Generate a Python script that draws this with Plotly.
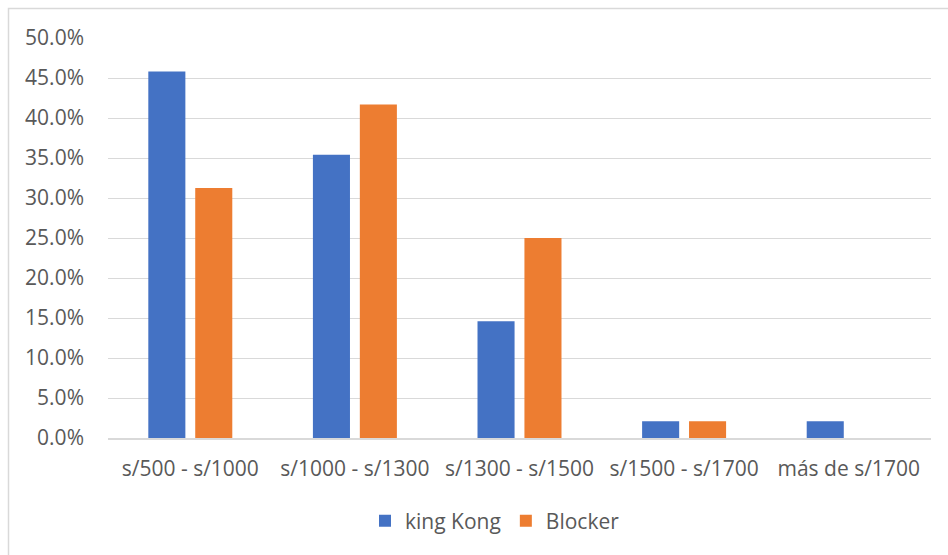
import plotly.graph_objects as go

categories = ["s/500 - s/1000", "s/1000 - s/1300", "s/1300 - s/1500", "s/1500 - s/1700", "más de s/1700"]
king_kong = [0.458, 0.354, 0.146, 0.021, 0.021]
blocker = [0.3125, 0.417, 0.25, 0.021, 0.0]
y_ticks = [0, 0.05, 0.10, 0.15, 0.20, 0.25, 0.30, 0.35, 0.40, 0.45, 0.50]

W, H = 948, 555
L, R, T, B = 108, 17, 38, 117
pw, ph = W - L - R, H - T - B

def px(x):
    return (x - L) / pw

def py(y):
    return (H - B - y) / ph

fig = go.Figure()
fig.add_trace(go.Bar(name="king Kong", x=categories, y=king_kong, marker_color="#4472C4",
                     marker_line_width=0))
fig.add_trace(go.Bar(name="Blocker", x=categories, y=blocker, marker_color="#ED7D31",
                     marker_line_width=0))

font = dict(family="Open Sans, sans-serif", size=21, color="#595959")

fig.update_layout(
    width=W, height=H,
    margin=dict(l=L, r=R, t=T, b=B),
    paper_bgcolor="white", plot_bgcolor="white",
    barmode="group", bargap=0.43, bargroupgap=0.21,
    font=font,
    legend=dict(orientation="h", x=px(495), xanchor="center", y=py(521), yanchor="middle",
                font=dict(family=font["family"], size=21, color="#595959"),
                itemwidth=30),
    shapes=[dict(type="rect", xref="paper", yref="paper",
                 x0=px(8.5), x1=px(1000), y0=py(8.5), y1=py(600),
                 line=dict(color="#D9D9D9", width=1.5), fillcolor="rgba(0,0,0,0)", layer="below")],
)
fig.update_yaxes(range=[0, 0.5], tickvals=y_ticks, tickformat=".1%",
                 showgrid=True, gridcolor="#D9D9D9", gridwidth=1.3,
                 zeroline=False, showline=False, ticks="", ticklabelstandoff=23)
fig.update_xaxes(showline=True, linecolor="#D9D9D9", linewidth=1.5,
                 ticks="", ticklabelstandoff=11)

fig.write_html("out.html")
